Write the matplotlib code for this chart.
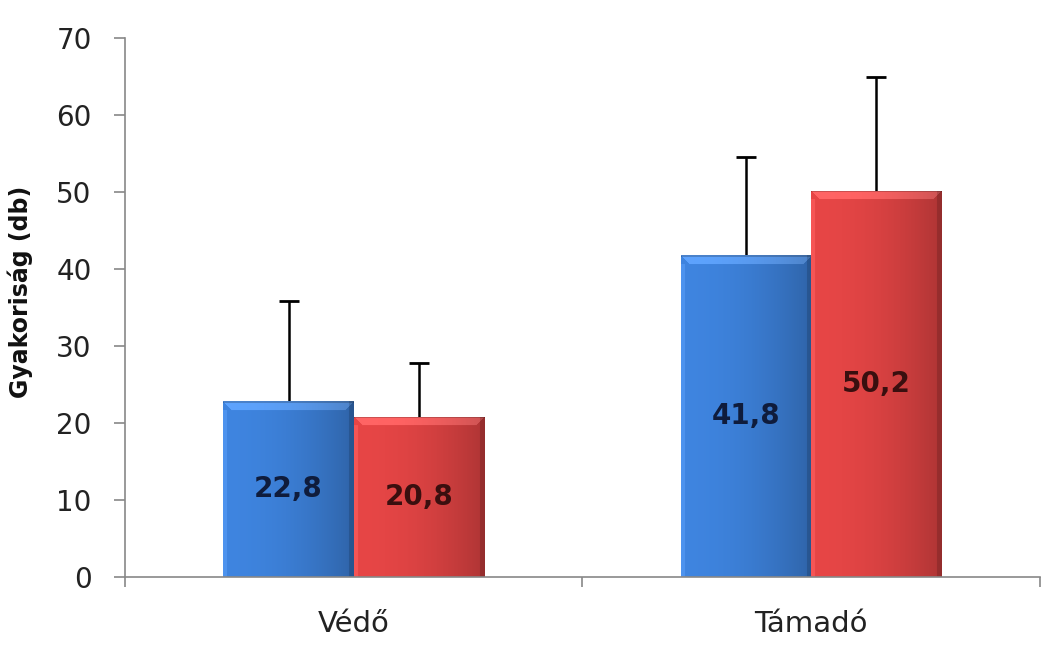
import numpy as np
import matplotlib
matplotlib.use("Agg")
import matplotlib.pyplot as plt
from matplotlib.colors import to_rgb

categories = ["Védő", "Támadó"]
series_a = [22.8, 41.8]
series_b = [20.8, 50.2]
err_a = [13.1, 12.8]
err_b = [7.0, 14.7]
labels_a = ["22,8", "41,8"]
labels_b = ["20,8", "50,2"]
yticks = [0, 10, 20, 30, 40, 50, 60, 70]

color_a = "#3b7dd3"
color_b = "#da4242"
text_a = "#0f1c3c"
text_b = "#3a0f0f"

fig = plt.figure(figsize=(10.62, 6.59), dpi=100)
ax = fig.add_axes([0.1177, 0.1245, 0.8615, 0.8175])

x = np.arange(len(categories))
w = 0.285
bars_a = ax.bar(x - w / 2, series_a, w, color=color_a, zorder=2)
bars_b = ax.bar(x + w / 2, series_b, w, color=color_b, zorder=2)

# upper-only error bars (no cap at the bar top)
for xs, vals, errs in ((x - w / 2, series_a, err_a), (x + w / 2, series_b, err_b)):
    tops = np.array(vals) + np.array(errs)
    ax.vlines(xs, vals, tops, colors="black", linewidth=1.8, zorder=1)
    ax.plot(xs, tops, linestyle="none", marker="_", markersize=15,
            markeredgewidth=2.0, color="black", zorder=1)

ax.set_xlim(-0.5, len(categories) - 0.5)
ax.set_ylim(0, 70)
ax.set_yticks(yticks)
ax.set_yticklabels([str(v) for v in yticks], fontsize=20, color="#222222")
ax.set_xticks(x)
ax.set_xticklabels(categories, fontsize=21, color="#222222")
ax.set_xticks(np.arange(-0.5, len(categories), 1.0), minor=True)
ax.tick_params(axis="x", which="major", length=0, pad=24)
ax.tick_params(axis="x", which="minor", length=7, width=1.2, color="#888888", direction="out")
ax.tick_params(axis="y", length=8, width=1.2, color="#888888", direction="out", pad=16)
for s in ["top", "right"]:
    ax.spines[s].set_visible(False)
for s in ["left", "bottom"]:
    ax.spines[s].set_color("#888888")
    ax.spines[s].set_linewidth(1.2)
ax.set_ylabel("Gyakoriság (db)", fontsize=17, fontweight="bold", color="#111111",
              ha="center", va="center")
ax.yaxis.set_label_coords(-0.114, 0.53)

# bevel/gradient shading derived from each bar patch
fig.canvas.draw()
def shade(patch, base):
    bb = patch.get_window_extent()
    W = max(int(bb.width), 2)
    H = max(int(bb.height), 2)
    rgb = np.array(to_rgb(base))
    xs = np.linspace(0, 1, W)
    hf = 1.06 - 0.26 * xs ** 2
    img = np.ones((H, W, 3)) * rgb
    img *= hf[None, :, None]
    rows, cols = np.mgrid[0:H, 0:W]
    bev = 9
    top = (rows < bev) & (cols >= rows) & (cols < W - rows)
    img[top] = np.clip(img[top] + 0.12, 0, 1)
    img[rows < 2] = img[rows < 2] * 0.8
    left = (cols < 4) & (rows >= bev)
    img[left] = np.clip(img[left] + 0.06, 0, 1)
    right = cols >= W - 5
    img[right] = img[right] * 0.85
    img = np.clip(img, 0, 1)
    x0, y0 = patch.get_x(), patch.get_y()
    im = ax.imshow(img, extent=(x0, x0 + patch.get_width(), y0, y0 + patch.get_height()),
                   aspect="auto", zorder=2.5, interpolation="bilinear")
    im.set_clip_path(patch)

for p in bars_a:
    shade(p, color_a)
for p in bars_b:
    shade(p, color_b)
ax.set_xlim(-0.5, len(categories) - 0.5)
ax.set_ylim(0, 70)

for xi, v, lab in zip(x - w / 2, series_a, labels_a):
    ax.text(xi, v / 2, lab, ha="center", va="center", fontsize=20, fontweight="bold",
            color=text_a, zorder=4)
for xi, v, lab in zip(x + w / 2, series_b, labels_b):
    ax.text(xi, v / 2, lab, ha="center", va="center", fontsize=20, fontweight="bold",
            color=text_b, zorder=4)

fig.savefig("out.png", dpi=100)
